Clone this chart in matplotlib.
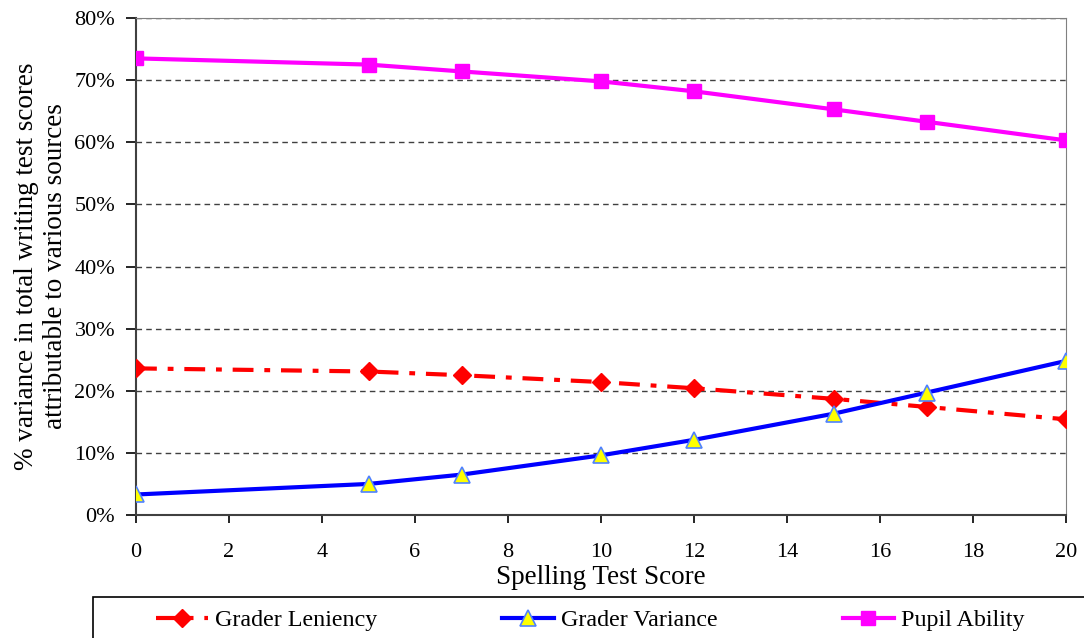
import matplotlib.pyplot as plt
from matplotlib.patches import Rectangle
from matplotlib.ticker import PercentFormatter

plt.rcParams['font.family'] = ['Liberation Serif', 'DejaVu Serif']

# Data
score = [0, 5, 7, 10, 12, 15, 17, 20]
leniency = [23.6, 23.1, 22.5, 21.4, 20.4, 18.7, 17.4, 15.4]
variance = [3.3, 5.0, 6.5, 9.6, 12.1, 16.3, 19.7, 24.8]
pupil = [73.5, 72.5, 71.4, 69.8, 68.2, 65.3, 63.3, 60.3]

fig = plt.figure(figsize=(10.84, 6.38), dpi=100)
ax = fig.add_axes([136 / 1084, 1 - 515 / 638, 930 / 1084, 497 / 638])

ax.plot(score, leniency, color='red', linewidth=3, dashes=(5, 2.6, 1.4, 2.6),
        marker='D', markersize=9, markerfacecolor='red', markeredgecolor='red',
        label='Grader Leniency', zorder=3)
ax.plot(score, variance, color='#0000ff', linewidth=3,
        marker='^', markersize=11, markerfacecolor='#ffff00',
        markeredgecolor='#4f81ff', markeredgewidth=1.2,
        label='Grader Variance', zorder=4)
ax.plot(score, pupil, color='#ff00ff', linewidth=3,
        marker='s', markersize=10.5, markerfacecolor='#ff00ff',
        markeredgecolor='#ff00ff', label='Pupil Ability', zorder=3)

ax.set_xlim(0, 20)
ax.set_ylim(0, 80)
ax.set_xticks(range(0, 21, 2))
ax.set_yticks(range(0, 81, 10))
ax.yaxis.set_major_formatter(PercentFormatter(decimals=0))
ax.tick_params(labelsize=16, direction='out', width=1.2, colors='black')
ax.tick_params(axis='x', length=6, pad=14)
ax.tick_params(axis='y', length=7, pad=8)

ax.grid(axis='y', color='#404040', linestyle=(0, (4, 3)), linewidth=1)
ax.set_axisbelow(True)
for s in ['top', 'right']:
    ax.spines[s].set_color('#808080')
for s in ['left', 'bottom']:
    ax.spines[s].set_color('#404040')
    ax.spines[s].set_linewidth(1.5)

ax.set_xlabel('Spelling Test Score', fontsize=19.5)
ax.xaxis.set_label_coords(0.5, -0.1)
ax.set_ylabel('% variance in total writing test scores\nattributable to various sources',
              fontsize=19.5, linespacing=1.2)
ax.yaxis.set_label_coords(-0.073, 0.5)

# legend box running off the bottom-right edge
fig.patches.append(Rectangle((93 / 1084, -0.05), 1.1, (638 - 597) / 638 + 0.05,
                             transform=fig.transFigure, fill=False,
                             edgecolor='black', linewidth=1.2))
fig.legend(loc='center left', bbox_to_anchor=(144 / 1084, 1 - 620 / 638),
           ncol=3, frameon=False, fontsize=17.3, handlelength=2.15,
           handletextpad=0.3, columnspacing=5.2, borderpad=0)

plt.savefig('out.png', dpi=100)
